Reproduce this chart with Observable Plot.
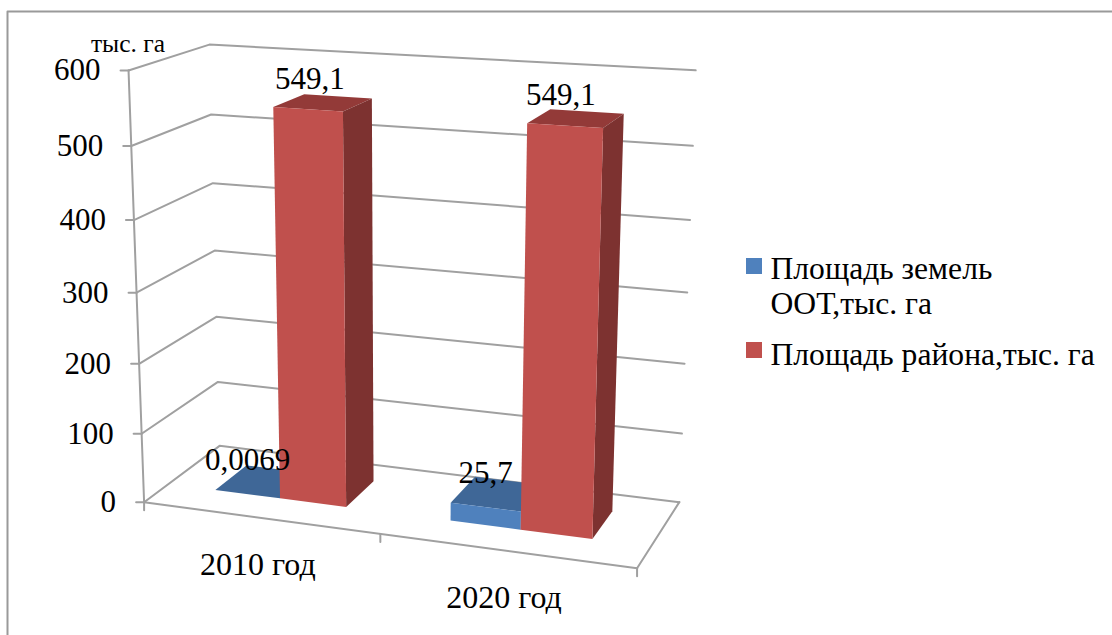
<!DOCTYPE html>
<html>
<head>
<meta charset="utf-8">
<script src="https://cdn.jsdelivr.net/npm/d3@7"></script>
<script src="https://cdn.jsdelivr.net/npm/@observablehq/plot@0.6"></script>
<style>
  html, body { margin: 0; padding: 0; background: #fff; }
  svg { display: block; }
</style>
</head>
<body>
<div id="chart"></div>
<script>
// Chart values
const categories = ["2010 год", "2020 год"];
const reserveArea = [0.0069, 25.7];
const districtArea = [549.1, 549.1];
const reserveLabels = ["0,0069", "25,7"];
const districtLabels = ["549,1", "549,1"];
const valueTicks = [0, 100, 200, 300, 400, 500, 600];
const seriesNames = ["Площадь земель\nООТ,тыс. га", "Площадь района,тыс. га"];

// Camera of the 3-D box: chart-space corners (category u, depth d, value v) and where they appear.
const cameraPins = [
  [0, 0, 0, 145, 502], [0, 0, 600, 127, 70],
  [0, 1, 0, 218, 445], [0, 1, 600, 210, 44],
  [2, 1, 0, 679, 502], [2, 1, 600, 695, 70],
  [2, 0, 0, 637, 567], [1, 0, 0, 379, 534]
];

// Solve the 3x4 projection by least squares on the normal equations.
function fitCamera(pins) {
  const rows = [];
  for (const [u, d, v, sx, sy] of pins) {
    const w = v / 600;
    rows.push([u, d, w, 1, 0, 0, 0, 0, -sx * u, -sx * d, -sx * w, sx]);
    rows.push([0, 0, 0, 0, u, d, w, 1, -sy * u, -sy * d, -sy * w, sy]);
  }
  const n = 11;
  const A = d3.range(n).map(i => d3.range(n + 1).map(j =>
    d3.sum(rows, r => r[i] * r[j])));
  for (let c = 0; c < n; c++) {
    let p = c;
    for (let r = c + 1; r < n; r++) if (Math.abs(A[r][c]) > Math.abs(A[p][c])) p = r;
    [A[c], A[p]] = [A[p], A[c]];
    for (let r = 0; r < n; r++) {
      if (r === c) continue;
      const f = A[r][c] / A[c][c];
      for (let k = c; k <= n; k++) A[r][k] -= f * A[c][k];
    }
  }
  return A.map((row, i) => row[n] / row[i]);
}
const cam = fitCamera(cameraPins);
function project(u, d, v) {
  const w = v / 600;
  const q = cam[8] * u + cam[9] * d + cam[10] * w + 1;
  return {
    x: (cam[0] * u + cam[1] * d + cam[2] * w + cam[3]) / q,
    y: (cam[4] * u + cam[5] * d + cam[6] * w + cam[7]) / q
  };
}

// Bar placement within each category slot and across the depth of the floor.
const barWidth = 0.283, barStart = 0.208, depthFront = 0.31, depthBack = 0.74;

const colors = {
  reserve: {front: "#4F81BD", top: "#3F6797", side: "#325378"},
  district: {front: "#C0504D", top: "#933A38", side: "#7D3230"}
};
const gridColor = "#A0A0A0";

// One face of a bar is a closed path in projected space.
function face(id, fill, corners) {
  return corners.concat([corners[0]]).map(([u, d, v]) => ({...project(u, d, v), id, fill}));
}
function barFaces(u0, u1, value, palette, key) {
  const [d0, d1] = [depthFront, depthBack];
  return [
    ...face(key + "top", palette.top, [[u0, d0, value], [u1, d0, value], [u1, d1, value], [u0, d1, value]]),
    ...face(key + "side", palette.side, [[u1, d0, 0], [u1, d1, 0], [u1, d1, value], [u1, d0, value]]),
    ...face(key + "front", palette.front, [[u0, d0, 0], [u1, d0, 0], [u1, d0, value], [u0, d0, value]])
  ];
}
const bars = categories.flatMap((c, i) => {
  const a = i + barStart, b = a + barWidth, e = b + barWidth;
  return [
    ...barFaces(a, b, reserveArea[i], colors.reserve, c + "r"),
    ...barFaces(b, e, districtArea[i], colors.district, c + "d")
  ];
});

// Walls and floor of the box.
const walls = valueTicks.flatMap(v => [
  {...project(0, 0, v), id: v}, {...project(0, 1, v), id: v}, {...project(2, 1, v), id: v}
]);
const floorEdges = [
  {...project(0, 0, 0), id: "f"}, {...project(2, 0, 0), id: "f"}, {...project(2, 1, 0), id: "f"},
  {...project(0, 0, 600), id: "a"}, {...project(0, 0, 0), id: "a"}
];
const valueTickMarks = valueTicks.flatMap(v => {
  const p = project(0, 0, v);
  return [{x: p.x - 8, y: p.y, id: v}, {x: p.x, y: p.y, id: v}];
});
const categoryTickMarks = [0, 1, 2].flatMap(u => {
  const p = project(u, 0, 0);
  return [{x: p.x, y: p.y, id: u}, {x: p.x, y: p.y + 8, id: u}];
});

// Text anchored to the projected positions.
const valueLabels = valueTicks.map(v => {
  const p = project(0, 0, v);
  return {x: p.x - 28, y: p.y, text: String(v)};
});
const categoryLabels = categories.map((c, i) => {
  const p = project(i + 0.5, 0, 0);
  return {x: p.x - 2, y: p.y + 47, text: c};
});
const reserveTextAt = reserveArea.map((v, i) => {
  const p = project(i + barStart + barWidth / 2, depthFront, v);
  return {...p, text: reserveLabels[i]};
});
const districtNudge = [2, -4];
const districtTextAt = districtArea.map((v, i) => {
  const p = project(i + barStart + barWidth * 1.5, depthFront, v);
  return {x: p.x + districtNudge[i], y: p.y, text: districtLabels[i]};
});

const legendSwatches = [
  {x1: 746, x2: 762, y1: 258, y2: 274, fill: colors.reserve.front},
  {x1: 746, x2: 762, y1: 342, y2: 358, fill: colors.district.front}
];
const legendLabels = [
  {x: 770, y: 285, text: seriesNames[0]},
  {x: 770, y: 353, text: seriesNames[1]}
];
const frameEdges = [
  {x: 7, y: 635}, {x: 7, y: 11}, {x: 1112, y: 11}
];

const serif = "'Liberation Serif', serif";
const chart = Plot.plot({
  width: 1112,
  height: 635,
  margin: 0,
  style: {background: "#fff", fontFamily: serif},
  x: {type: "identity", axis: null},
  y: {type: "identity", axis: null},
  marks: [
    Plot.line(frameEdges, {x: "x", y: "y", stroke: "#9A9A9A", strokeWidth: 2}),
    Plot.line(walls, {x: "x", y: "y", z: "id", stroke: gridColor, strokeWidth: 2}),
    Plot.line(floorEdges, {x: "x", y: "y", z: "id", stroke: gridColor, strokeWidth: 2}),
    Plot.line(valueTickMarks, {x: "x", y: "y", z: "id", stroke: gridColor, strokeWidth: 2}),
    Plot.line(categoryTickMarks, {x: "x", y: "y", z: "id", stroke: gridColor, strokeWidth: 2}),
    Plot.line(bars, {x: "x", y: "y", z: "id", fill: "fill", stroke: "none"}),
    Plot.text(valueLabels, {x: "x", y: "y", text: "text", textAnchor: "end", fontSize: 31, fill: "#000"}),
    Plot.text(categoryLabels, {x: "x", y: "y", text: "text", fontSize: 32, fill: "#000"}),
    Plot.text(districtTextAt, {x: "x", y: "y", text: "text", dy: -30, fontSize: 31, fill: "#000"}),
    Plot.text(reserveTextAt, {x: "x", y: "y", text: "text", dy: -34, fontSize: 31, fill: "#000"}),
    Plot.text(["тыс. га"], {x: () => 127.5, y: () => 43, text: d => d, fontSize: 25.5, fill: "#000"}),
    Plot.rect(legendSwatches, {x1: "x1", x2: "x2", y1: "y1", y2: "y2", fill: "fill"}),
    Plot.text(legendLabels, {x: "x", y: "y", text: "text", textAnchor: "start", lineHeight: 1.11, fontSize: 31.6, fill: "#000"})
  ]
});
document.getElementById("chart").append(chart);
</script>
</body>
</html>
